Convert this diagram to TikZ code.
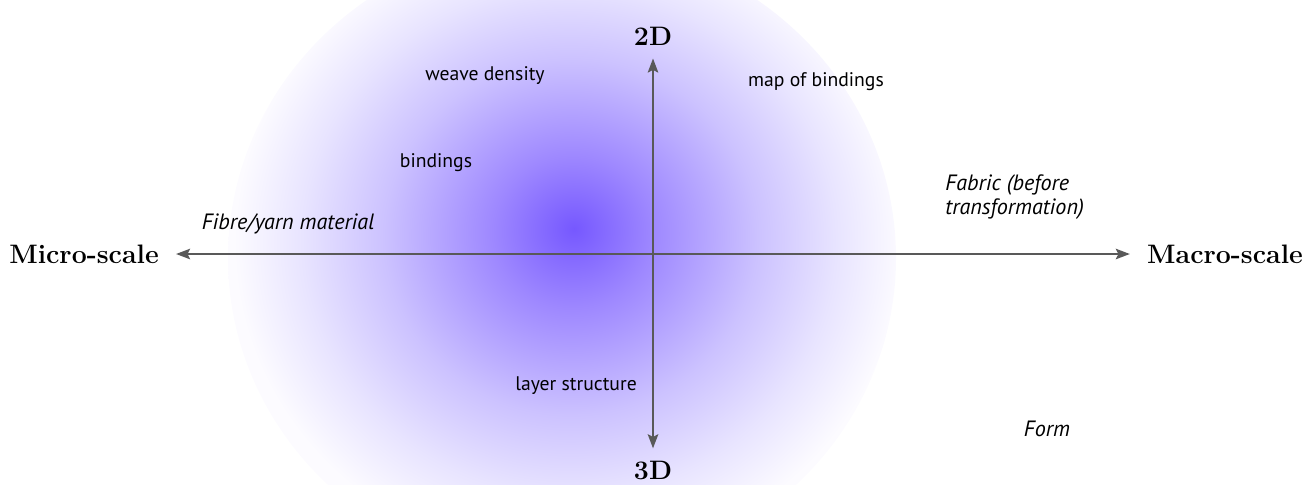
\documentclass[tikz,border=0pt]{standalone}
\usepackage{fontspec}
\usepackage{tikz}
\usetikzlibrary{positioning,arrows.meta}
\newfontfamily\qSans{PT Sans}
\definecolor{qCore}{RGB}{118,88,255}
\definecolor{qMid}{RGB}{158,136,255}
\definecolor{qPale}{RGB}{204,194,255}
\definecolor{qFaint}{RGB}{232,228,255}
\definecolor{qEdge}{RGB}{252,251,255}
\pgfdeclareradialshading{qblob}{\pgfpoint{0.9bp}{2.3bp}}{color(0bp)=(qCore); color(6bp)=(qMid); color(14bp)=(qPale); color(20bp)=(qFaint); color(25bp)=(qEdge); color(50bp)=(qEdge)}
\tikzset{
  qscale/.style={inner sep=0pt, font={\fontsize{15.2}{18}\selectfont\bfseries\addfontfeatures{Numbers=OldStyle}}},
  qlab/.style={inner sep=0pt, font={\qSans\fontsize{11.2}{13.6}\selectfont}},
  qitem/.style={qlab, font={\qSans\itshape\fontsize{12.6}{13.6}\selectfont}},
  qaxis/.style={draw=black!65, line width=1pt, {Stealth[length=8pt,width=6pt,inset=1.5pt]}-{Stealth[length=8pt,width=6pt,inset=1.5pt]}},
}

\begin{document}
\begin{tikzpicture}[x=0.02cm, y=-0.02cm]
  \useasboundingbox (0,0) rectangle (1314,484);
  \begin{scope}
    \clip (0,0) rectangle (1314,484);
    \shade[shading=qblob] (562,258) ellipse [x radius=334, y radius=318];
  \end{scope}
  \node[qscale] (micro) at (84,254) {Micro-scale};
  \node[qscale] (macro) at (1225,254) {Macro-scale};
  \node[qscale] (twoD) at (653,36) {2D};
  \node[qscale] (threeD) at (653,470) {3D};
  \draw[qaxis, shorten <=17*0.02cm, shorten >=17*0.02cm] (micro.east) -- (macro.west);
  \draw[qaxis] ([yshift=-13*0.02cm]twoD.south) -- ([yshift=12*0.02cm]threeD.north);
  \node[qlab] (weave) at (485,76) {weave density};
  \node[qlab] (bindmap) at (816,82) {map of bindings};
  \node[qlab] (bind) at (436,163) {bindings};
  \node[qitem] (fibre) at (288,224) {Fibre/yarn material};
  \node[qitem, anchor=west, align=left] (fabric) at (945,197) {Fabric (before\\transformation)};
  \node[qlab] (layer) at (576,386) {layer structure};
  \node[qitem] (form) at (1047,429) {Form};
\end{tikzpicture}
\end{document}
